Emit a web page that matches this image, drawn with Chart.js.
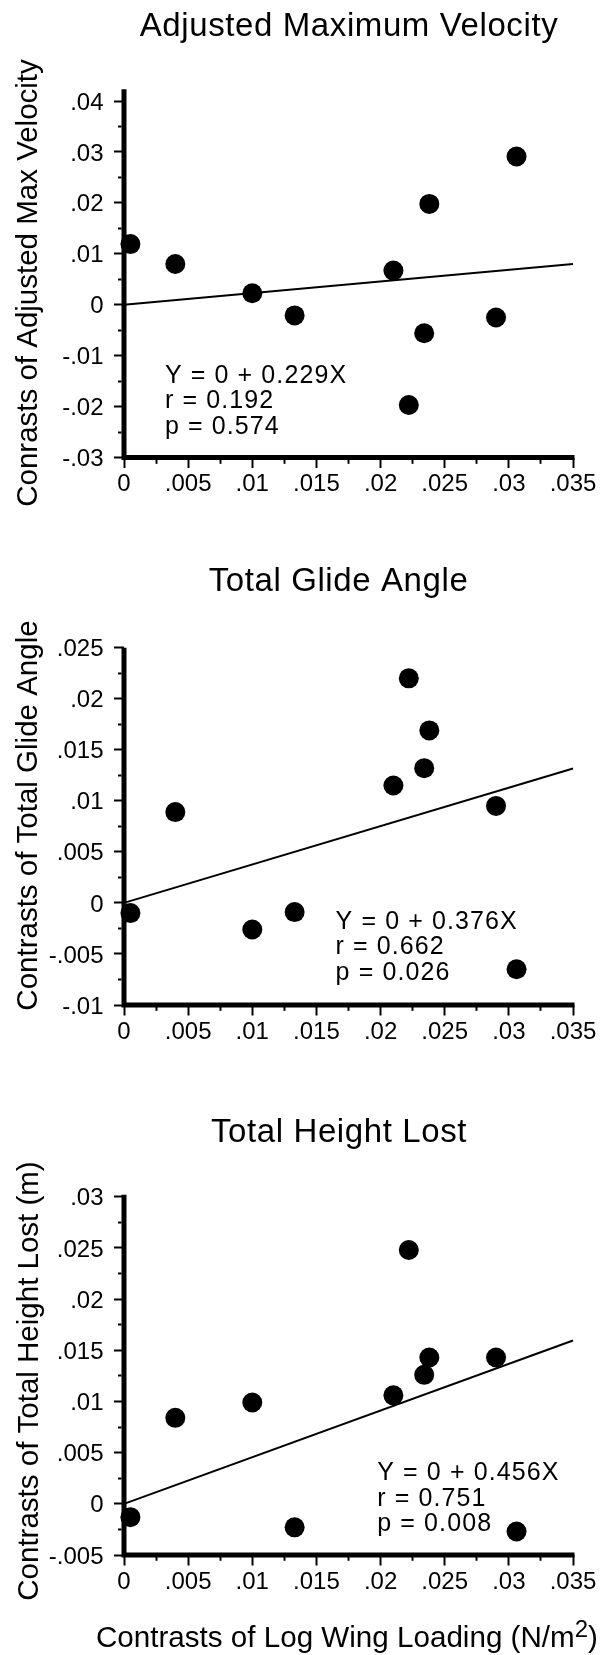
<!DOCTYPE html>
<html>
<head>
<meta charset="utf-8">
<script src="https://cdn.jsdelivr.net/npm/chart.js@4/dist/chart.umd.min.js"></script>
<style>
  body { margin: 0; background: #fff; }
  #wrap { position: relative; width: 605px; height: 1655px; overflow: hidden; }
  .panel { position: absolute; left: 0; }
</style>
</head>
<body>
<div id="wrap">
  <div class="panel" style="top:0"><canvas id="velocity" width="605" height="540"></canvas></div>
  <div class="panel" style="top:540px"><canvas id="glide" width="605" height="540"></canvas></div>
  <div class="panel" style="top:1080px"><canvas id="height" width="605" height="575"></canvas></div>
</div>
<script>
const fontFamily = '"Liberation Sans", Arial, Helvetica, sans-serif'

// contrasts of log wing loading, same x for every panel
const wingLoading = [0.0005, 0.004, 0.010, 0.0133, 0.021, 0.0222, 0.0234, 0.0238, 0.029, 0.0306]
const maxVelocity = [0.0119, 0.0080, 0.00225, -0.0021, 0.0067, -0.0197, -0.0056, 0.0198, -0.0025, 0.0291]
const glideAngle = [-0.0010, 0.0089, -0.0026, -0.0009, 0.0115, 0.0220, 0.0132, 0.0169, 0.0095, -0.0065]
const heightLost = [-0.0013, 0.0084, 0.0099, -0.0023, 0.0106, 0.0248, 0.0126, 0.0143, 0.0143, -0.0027]

// fit results printed on each panel
const fitSlope = [0.229, 0.376, 0.456]
const fitR = ['0.192', '0.662', '0.751']
const fitP = ['0.574', '0.026', '0.008']

const xTicks = [0, 0.005, 0.01, 0.015, 0.02, 0.025, 0.03, 0.035]
const velocityTicks = [-0.03, -0.02, -0.01, 0, 0.01, 0.02, 0.03, 0.04]
const glideTicks = [-0.01, -0.005, 0, 0.005, 0.01, 0.015, 0.02, 0.025]
const heightTicks = [-0.005, 0, 0.005, 0.01, 0.015, 0.02, 0.025, 0.03]

const tickLabel = v => v === 0 ? '0' : String(v).replace('0.', '.')

const withMinor = major => {
   const minor = major.slice(1).map((v, i) => (v + major[i]) / 2)
   return major.map(v => ({ value: v }))
      .concat(minor.map(v => ({ value: v, minor: true })))
      .sort((a, b) => a.value - b.value)
}

const axis = (min, max, major, vertical) => ({
   type: 'linear',
   position: vertical ? 'left' : 'bottom',
   min: min,
   max: max,
   afterBuildTicks: scale => { scale.ticks = withMinor(major) },
   afterFit: scale => {
      if (vertical) scale.width = 124
      else scale.height = 50
   },
   ticks: {
      autoSkip: false,
      maxRotation: 0,
      minRotation: 0,
      color: '#000',
      padding: vertical ? 10.5 : 2,
      labelOffset: vertical ? 2 : 0,
      font: { family: fontFamily, size: 24 },
      callback: (v, i, ticks) => ticks[i].minor ? '' : tickLabel(v)
   },
   grid: {
      drawOnChartArea: false,
      drawBorder: false,
      tickLength: vertical ? 10 : 10.5,
      tickColor: '#000',
      tickWidth: 2,
      // minor ticks: only the part next to the axis is drawn
      tickBorderDash: ctx => ctx.tick && ctx.tick.minor ? (vertical ? [0, 4, 3.5, 40] : [5.8, 40]) : []
   },
   // the heavy axis lines come from the axisLines plugin
   border: { display: false },
   title: { display: false }
})

const axisLines = {
   id: 'axisLines',
   beforeDatasetsDraw(chart) {
      const { ctx, chartArea: a } = chart
      ctx.save()
      ctx.strokeStyle = '#000'
      ctx.lineWidth = 5
      ctx.beginPath()
      ctx.moveTo(a.left, a.top)
      ctx.lineTo(a.left, a.bottom + 2.5)
      ctx.moveTo(a.left - 2.5, a.bottom)
      ctx.lineTo(a.right + 1.5, a.bottom)
      ctx.stroke()
      ctx.restore()
   }
}

const notesPlugin = {
   id: 'notes',
   afterDraw(chart, args, opts) {
      const ctx = chart.ctx
      ctx.save()
      ctx.fillStyle = '#000'
      ctx.textBaseline = 'alphabetic'

      ctx.font = '33px ' + fontFamily
      ctx.textAlign = 'center'
      ctx.letterSpacing = '0.6px'
      ctx.fillText(opts.title, opts.titleX, opts.titleY)

      ctx.font = '25px ' + fontFamily
      ctx.textAlign = 'left'
      ctx.letterSpacing = '1.1px'
      opts.lines.forEach((t, i) => ctx.fillText(t, opts.noteX, opts.noteY + i * 25.5))
      ctx.letterSpacing = '0px'

      // y axis title, reads bottom to top
      ctx.save()
      ctx.translate(opts.yTitleX, opts.yTitleY)
      ctx.rotate(-Math.PI / 2)
      ctx.font = '29.5px ' + fontFamily
      ctx.textAlign = 'center'
      ctx.textBaseline = 'middle'
      ctx.fillText(opts.yTitle, 0, 0)
      ctx.restore()

      if (opts.xTitle) {
         const xt = opts.xTitle
         ctx.font = '29.6px ' + fontFamily
         ctx.fillText(xt.text, xt.x, xt.y)
         let x = xt.x + ctx.measureText(xt.text).width
         ctx.font = '24px ' + fontFamily
         ctx.fillText(xt.sup, x, xt.y - 10)
         x += ctx.measureText(xt.sup).width
         ctx.font = '29.6px ' + fontFamily
         ctx.fillText(xt.tail, x, xt.y)
      }
      ctx.restore()
   }
}

const makePanel = (id, values, slope, yMin, yMax, yTicks, padding, notes) => {
   const ctx = document.getElementById(id).getContext('2d')
   return new Chart(ctx, {
      type: 'scatter',
      data: {
         datasets: [{
            data: wingLoading.map((x, i) => ({ x: x, y: values[i] })),
            backgroundColor: '#000',
            borderWidth: 0,
            pointRadius: 10,
            clip: false
         }, {
            type: 'line',
            data: [{ x: 0, y: 0 }, { x: 0.035, y: slope * 0.035 }],
            borderColor: '#000',
            borderWidth: 2,
            pointRadius: 0,
            fill: false,
            clip: false
         }]
      },
      options: {
         responsive: false,
         animation: false,
         events: [],
         layout: { padding: padding },
         scales: {
            x: axis(0, 0.035, xTicks, false),
            y: axis(yMin, yMax, yTicks, true)
         },
         plugins: {
            legend: { display: false },
            tooltip: { enabled: false },
            notes: notes
         }
      },
      plugins: [axisLines, notesPlugin]
   })
}

const fitLines = i => ['Y = 0 + ' + fitSlope[i] + 'X', 'r = ' + fitR[i], 'p = ' + fitP[i]]

makePanel('velocity', maxVelocity, fitSlope[0], -0.03, 0.0423, velocityTicks,
   { top: 89.3, right: 32, bottom: 32.5, left: 0 },
   { title: 'Adjusted Maximum Velocity', titleX: 349, titleY: 36,
     yTitle: 'Conrasts of Adjusted Max Velocity', yTitleX: 29, yTitleY: 283,
     lines: fitLines(0), noteX: 165, noteY: 382.6 })

makePanel('glide', glideAngle, fitSlope[1], -0.01, 0.025, glideTicks,
   { top: 107.7, right: 32, bottom: 25, left: 0 },
   { title: 'Total Glide Angle', titleX: 338.5, titleY: 51,
     yTitle: 'Contrasts of Total Glide Angle', yTitleX: 29, yTitleY: 275.5,
     lines: fitLines(1), noteX: 335.6, noteY: 388.6 })

makePanel('height', heightLost, fitSlope[2], -0.005, 0.0302, heightTicks,
   { top: 114.7, right: 32, bottom: 50, left: 0 },
   { title: 'Total Height Lost', titleX: 339, titleY: 61.5,
     yTitle: 'Contrasts of Total Height Lost (m)', yTitleX: 30, yTitleY: 301,
     lines: fitLines(2), noteX: 377.3, noteY: 400.2,
     xTitle: { text: 'Contrasts of Log Wing Loading (N/m', sup: '2', tail: ')', x: 96, y: 566.7 } })
</script>
</body>
</html>
